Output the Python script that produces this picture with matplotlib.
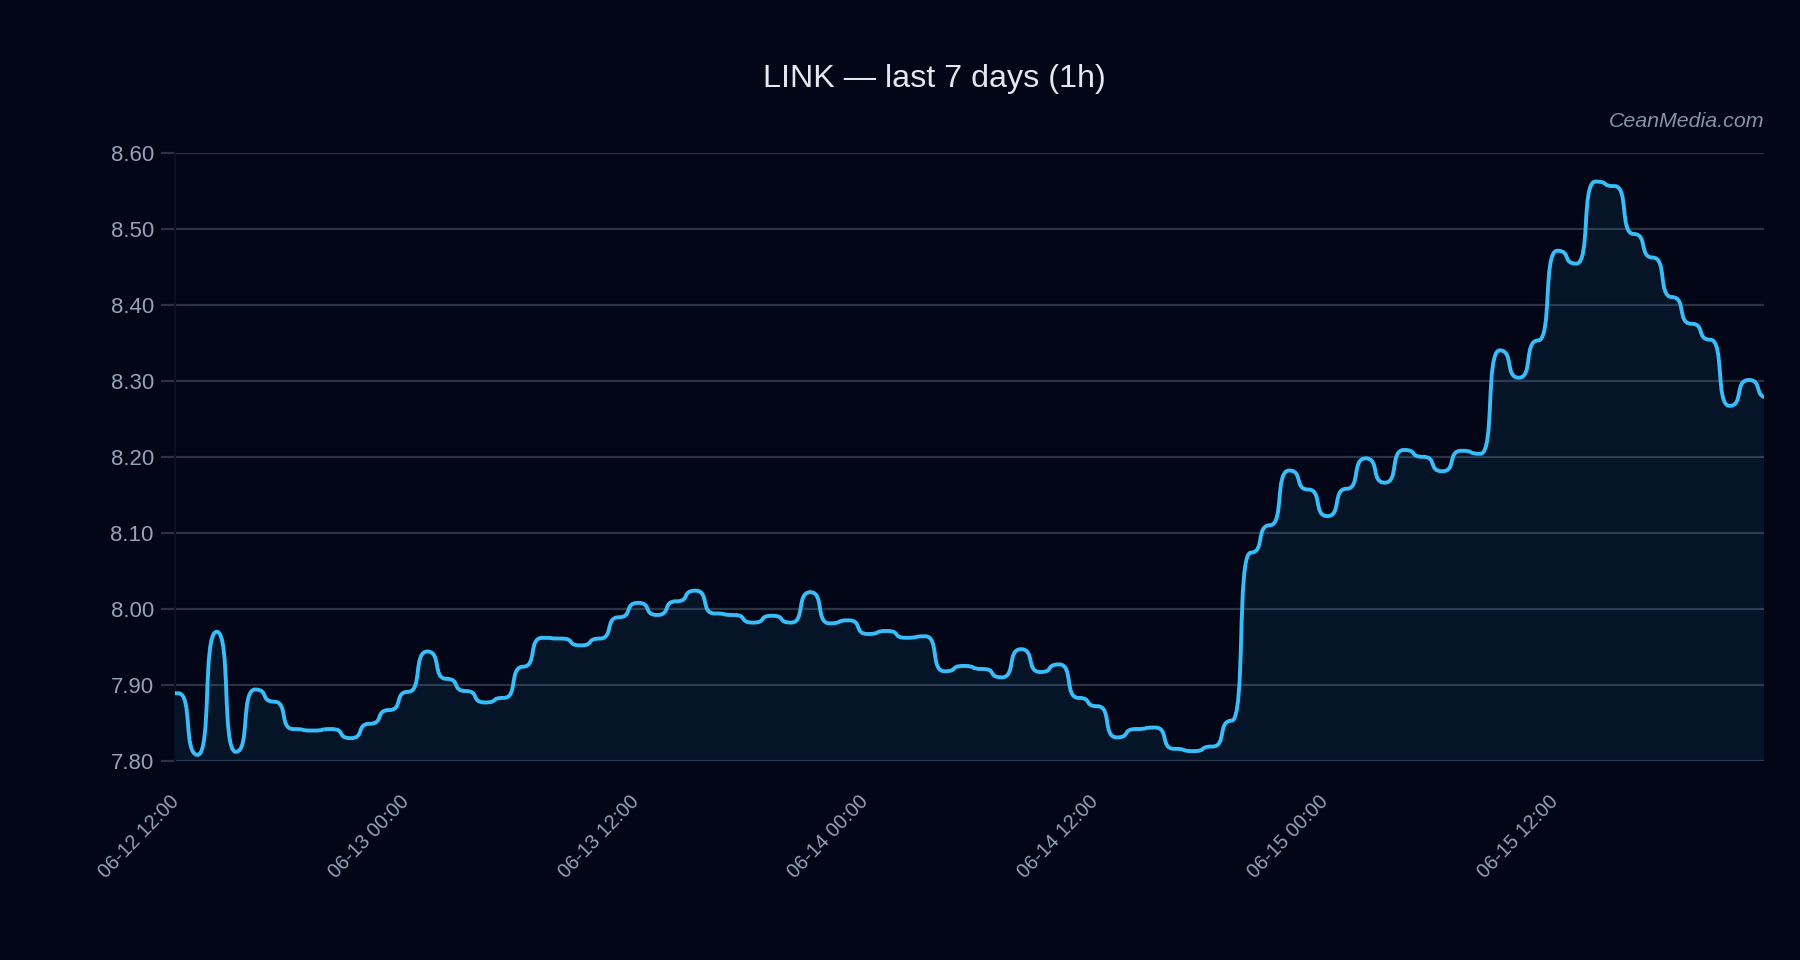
import matplotlib

matplotlib.use("Agg")
import matplotlib.dates as mdates
import matplotlib.pyplot as plt
import matplotlib.transforms as mtransforms
import pandas as pd
from matplotlib.patches import PathPatch
from matplotlib.path import Path
from matplotlib.ticker import FormatStrFormatter, MultipleLocator

plt.rcParams["font.family"] = ["Liberation Sans", "DejaVu Sans"]

# hourly closes, 06-12 12:00 -> 06-15 23:00
start = "2024-06-12 12:00"
prices = [
    7.889, 7.808, 7.970, 7.812, 7.894, 7.878, 7.842, 7.840, 7.842, 7.830,
    7.849, 7.867, 7.891, 7.944, 7.908, 7.892, 7.877, 7.883, 7.924, 7.962,
    7.961, 7.952, 7.961, 7.989, 8.008, 7.992, 8.010, 8.024, 7.994, 7.992,
    7.982, 7.991, 7.982, 8.022, 7.981, 7.985, 7.967, 7.971, 7.962, 7.964,
    7.918, 7.925, 7.921, 7.910, 7.947, 7.917, 7.927, 7.883, 7.872, 7.831,
    7.842, 7.844, 7.816, 7.813, 7.819, 7.853, 8.074, 8.110, 8.182, 8.157,
    8.122, 8.158, 8.198, 8.166, 8.209, 8.200, 8.181, 8.208, 8.204, 8.340,
    8.304, 8.353, 8.471, 8.454, 8.562, 8.556, 8.493, 8.462, 8.410, 8.375,
    8.354, 8.267, 8.301, 8.278,
]
times = pd.date_range(start, periods=len(prices), freq="h")

title = "LINK \u2014 last 7 days (1h)"
watermark = "CeanMedia.com"

BG = "#020617"
LINE = "#38bdf8"
GRID = "#2a3344"
MUTED = "#94a3b8"
Y_MIN, Y_MAX = 7.80, 8.60


def bump_path(x, y, x_left, base=None, k=0.75):
    # smooth curve with flat tangents at every hourly point
    verts = [(x_left, y[0]), (x[0], y[0])]
    codes = [Path.MOVETO, Path.LINETO]
    for i in range(len(x) - 1):
        dx = x[i + 1] - x[i]
        verts += [(x[i] + k * dx, y[i]), (x[i + 1] - k * dx, y[i + 1]), (x[i + 1], y[i + 1])]
        codes += [Path.CURVE4] * 3
    if base is not None:
        verts += [(x[-1], base), (x_left, base), (x_left, y[0])]
        codes += [Path.LINETO, Path.LINETO, Path.CLOSEPOLY]
    return Path(verts, codes)


x = mdates.date2num(times)
hour = 1 / 24
x_left = x[0] - 0.2 * hour

fig = plt.figure(figsize=(9, 4.8), dpi=200, facecolor=BG)
ax = fig.add_axes([0.097, 0.2073, 0.883, 0.6337], facecolor=BG)

ax.add_patch(PathPatch(bump_path(x, prices, x_left, base=Y_MIN), facecolor=LINE, alpha=0.08,
                       edgecolor="none", zorder=2))
ax.add_patch(PathPatch(bump_path(x, prices, x_left), facecolor="none", edgecolor=LINE,
                       linewidth=1.4, capstyle="round", joinstyle="round", zorder=3))

ax.set_xlim(x_left, x[0] + 82.8 * hour)
ax.set_ylim(Y_MIN, Y_MAX)

ax.yaxis.set_major_locator(MultipleLocator(0.1))
ax.yaxis.set_major_formatter(FormatStrFormatter("%.2f"))
ax.xaxis.set_major_locator(mdates.HourLocator(byhour=[0, 12]))
ax.xaxis.set_major_formatter(mdates.DateFormatter("%m-%d %H:%M"))

ax.grid(axis="y", color=GRID, linewidth=0.8, zorder=1)
for side in ["top", "right", "bottom"]:
    ax.spines[side].set_visible(False)
ax.spines["left"].set_color("#0a1122")
ax.spines["left"].set_linewidth(0.8)

ax.tick_params(axis="y", colors=GRID, labelcolor=MUTED, labelsize=8, length=5, width=0.8, pad=2.5)
ax.tick_params(axis="x", colors=GRID, labelcolor=MUTED, labelsize=7.2, length=0, pad=10)
shift = mtransforms.ScaledTranslation(-9 / 200, -3 / 200, fig.dpi_scale_trans)
for lab in ax.get_xticklabels():
    lab.set_rotation(46)
    lab.set_ha("right")
    lab.set_rotation_mode("anchor")
    lab.set_transform(lab.get_transform() + shift)

fig.text(0.519, 0.918, title, color="#e2e8f0", fontsize=11.6, ha="center", va="center")
ax.text(1.0, 1.035, watermark, transform=ax.transAxes, color=MUTED, alpha=0.9,
        fontsize=7.7, fontstyle="italic", ha="right", va="bottom")

fig.savefig("out.png", dpi=200, facecolor=BG)
